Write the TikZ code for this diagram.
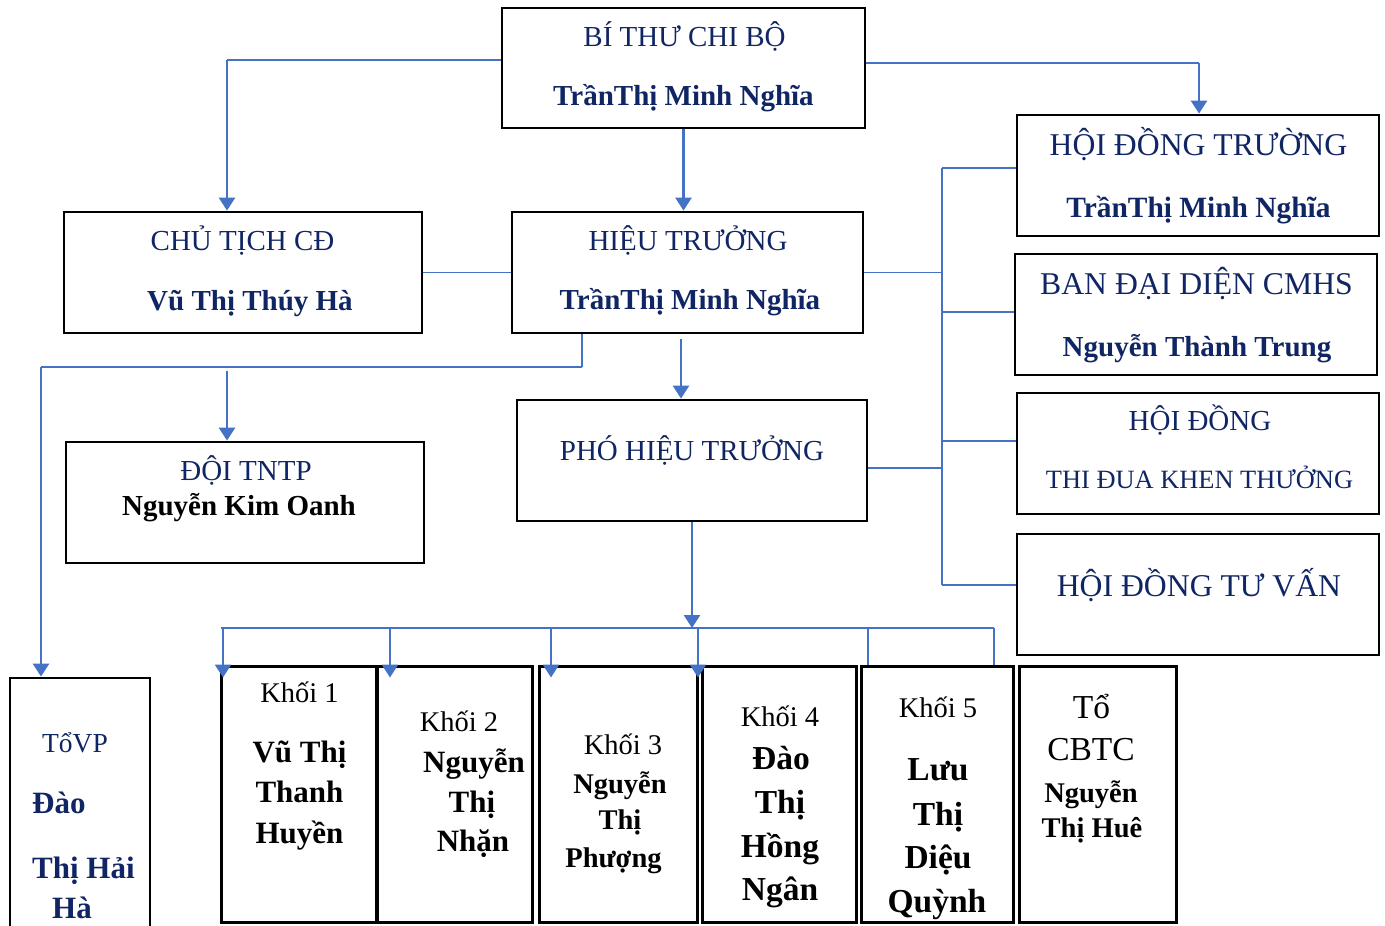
\documentclass[tikz,border=0pt]{standalone}
\usepackage{fontspec}
\setmainfont{Liberation Serif}
\usetikzlibrary{arrows.meta}
\definecolor{schoolnavy}{RGB}{16,37,99}
\definecolor{wireblue}{RGB}{68,114,196}
\newcommand{\sz}[1]{\fontsize{#1}{#1}\selectfont}
\newcommand{\connect}[2]{
  \draw [wire] (#1) -- (#2)
}
\newcommand{\feed}[2]{
  \draw [stem,-{Triangle[width=16pt,length=13pt]}] (#1) -- (#2)
}

\begin{document}
\begin{tikzpicture}[x=1pt,y=-1pt,
  box/.style={draw=black,line width=2.8pt,inner sep=0pt},
  cell/.style={draw=black,line width=3pt,inner sep=0pt,minimum height=256pt},
  wire/.style={draw=wireblue,line width=1.8pt},
  stem/.style={draw=wireblue,line width=2.6pt},
  role/.style={anchor=base,inner sep=0pt,text=schoolnavy,font=\sz{#1}},
  role/.default=29,
  person/.style={anchor=base,inner sep=0pt,text=schoolnavy,font=\sz{#1}\bfseries},
  person/.default=29,
  grade/.style={anchor=base,inner sep=0pt,text=black,font=\sz{#1}},
  grade/.default=28.5,
  teacher/.style={anchor=base,inner sep=0pt,text=black,font=\sz{#1}\bfseries},
  teacher/.default=31]
\useasboundingbox (0,0) rectangle (1385,926);

% top
\node[box,minimum width=363pt,minimum height=120pt] (btcb) at (683.5,68) {};
\node[role]   (btcb-a) at (684.5,46)  {BÍ THƯ CHI BỘ};
\node[person] (btcb-b) at (683.5,105) {TrầnThị Minh Nghĩa};

% second row
\node[box,minimum width=358pt,minimum height=121pt] (chutich) at (243,272.5) {};
\node[role]   (chutich-a) at (242.5,250) {CHỦ TỊCH CĐ};
\node[person] (chutich-b) at (250,310)   {Vũ Thị Thúy Hà};

\node[box,minimum width=351pt,minimum height=121pt] (hieutruong) at (687.5,272.5) {};
\node[role]   (hieutruong-a) at (688,250) {HIỆU TRƯỞNG};
\node[person] (hieutruong-b) at (690,309) {TrầnThị Minh Nghĩa};

% third row
\node[box,minimum width=358pt,minimum height=121pt] (doi) at (245,502.5) {};
\node[role]    (doi-a) at (246,480) {ĐỘI TNTP};
\node[teacher=29] (doi-b) at (239,515) {Nguyễn Kim Oanh};

\node[box,minimum width=350pt,minimum height=121pt] (pho) at (692,460.5) {};
\node[role] (pho-a) at (692,460) {PHÓ HIỆU TRƯỞNG};

% councils on the right
\node[box,minimum width=362pt,minimum height=121pt] (hdtruong) at (1198,175.5) {};
\node[role=31.7] (hdtruong-a) at (1198.5,155) {HỘI ĐỒNG TRƯỜNG};
\node[person=29.4] (hdtruong-b) at (1198.5,217) {TrầnThị Minh Nghĩa};

\node[box,minimum width=362pt,minimum height=121pt] (ban) at (1196,314.5) {};
\node[role=31.7] (ban-a) at (1196.5,294) {BAN ĐẠI DIỆN CMHS};
\node[person] (ban-b) at (1197,356)   {Nguyễn Thành Trung};

\node[box,minimum width=362pt,minimum height=121pt] (thidua) at (1198,453.5) {};
\node[role]      (thidua-a) at (1200,430)   {HỘI ĐỒNG};
\node[role=26.4] (thidua-b) at (1199.5,488) {THI ĐUA KHEN THƯỞNG};

\node[box,minimum width=362pt,minimum height=121pt] (tuvan) at (1198,594.5) {};
\node[role=31.7] (tuvan-a) at (1199,596) {HỘI ĐỒNG TƯ VẤN};

% office group
\node[box,minimum width=140pt,minimum height=262pt] (tovp) at (80,809) {};
\node[role=27.5] (tovp-a) at (75,752) {TổVP};
\node[person=31,anchor=base west] (tovp-b) at (32,813) {Đào};
\node[person=31,anchor=base west] (tovp-c) at (32,878) {Thị Hải};
\node[person=31] (tovp-d) at (72,918) {Hà};

% grade cells
\node[cell,minimum width=155pt] (k1) at (298.5,794) {};
\node[cell,minimum width=155pt] (k2) at (455,794)   {};
\node[cell,minimum width=158pt] (k3) at (618,794)   {};
\node[cell,minimum width=154pt] (k4) at (779,794)   {};
\node[cell,minimum width=152pt] (k5) at (937,794)   {};
\node[cell,minimum width=157pt] (k6) at (1097.5,794) {};

% kids of k1
\node[grade]   (k1-a) at (299.5,702) {Khối 1};
\node[teacher] (k1-b) at (299.5,762) {Vũ Thị};
\node[teacher] (k1-c) at (299.5,802) {Thanh};
\node[teacher] (k1-d) at (299.5,843) {Huyền};

% kids of k2
\node[grade]   (k2-a) at (459,731) {Khối 2};
\node[teacher] (k2-b) at (474,772) {Nguyễn};
\node[teacher] (k2-c) at (472,812) {Thị};
\node[teacher] (k2-d) at (473,851) {Nhặn};

% kids of k3
\node[grade]      (k3-a) at (623,754)   {Khối 3};
\node[teacher=28.5] (k3-b) at (620,793)   {Nguyễn};
\node[teacher=28.5] (k3-c) at (620,829)   {Thị};
\node[teacher=28.5] (k3-d) at (613.5,867) {Phượng};

% kids of k4
\node[grade]      (k4-a) at (780,726) {Khối 4};
\node[teacher=33.5] (k4-b) at (781,769) {Đào};
\node[teacher=33.5] (k4-c) at (780,813) {Thị};
\node[teacher=33.5] (k4-d) at (780,857) {Hồng};
\node[teacher=33.5] (k4-e) at (780,900) {Ngân};

% kids of k5
\node[grade]      (k5-a) at (938,717) {Khối 5};
\node[teacher=33.5] (k5-b) at (938,780) {Lưu};
\node[teacher=33.5] (k5-c) at (938,825) {Thị};
\node[teacher=33.5] (k5-d) at (938,868) {Diệu};
\node[teacher=33.5] (k5-e) at (937,912) {Quỳnh};

% kids of k6
\node[grade=33.5]   (k6-a) at (1091.5,718) {Tổ};
\node[grade=33.5]   (k6-b) at (1091,760)   {CBTC};
\node[teacher=28.5] (k6-c) at (1091,802)   {Nguyễn};
\node[teacher=28.5] (k6-d) at (1092,837)   {Thị Huê};

% connect top
\coordinate (tl) at (227,60);
\coordinate (tr) at (1199,63);
\connect {btcb.west |- tl} {tl};
\feed {tl} {tl |- chutich.north};
\feed {btcb.south} {btcb.south |- hieutruong.north};
\connect {btcb.east |- tr} {tr};
\feed {tr} {tr |- hdtruong.north};
\connect {chutich.east} {hieutruong.west};

% connect left branch
\coordinate (ml) at (582,367);
\coordinate (fl) at (41,367);
\coordinate (dl) at (227,371);
\connect {ml |- hieutruong.south} {ml};
\connect {ml} {fl};
\feed {fl} {fl |- tovp.north};
\feed {dl} {dl |- doi.north};
\coordinate (hp) at (681,339);
\feed {hp} {hp |- pho.north};

% connect right bus
\coordinate (rb1) at (942,168);
\coordinate (rb2) at (942,312);
\coordinate (rb3) at (942,441);
\coordinate (rb4) at (942,585);
\coordinate (rp) at (942,468);
\connect {rb1} {rb4};
\connect {hieutruong.east} {hieutruong.east -| rb1};
\connect {rp -| pho.east} {rp};
\connect {rb1} {rb1 -| hdtruong.west};
\connect {rb2} {rb2 -| ban.west};
\connect {rb3} {rb3 -| thidua.west};
\connect {rb4} {rb4 -| tuvan.west};

% connect bottom bus
\coordinate (bb) at (692,628);
\coordinate (b1) at (223,628);
\coordinate (b2) at (390,628);
\coordinate (b3) at (551,628);
\coordinate (b4) at (698,628);
\coordinate (b5) at (868,628);
\coordinate (b6) at (994,628);
\feed {pho.south} {pho.south |- bb};
\connect {[xshift=-2pt]b1} {b6};
\foreach \i/\k in {1/k1,2/k2,3/k3,4/k4}
  \draw [stem,-{Triangle[width=16pt,length=13pt]},shorten >=-13pt] (b\i) -- (b\i |- \k.north);
\draw [stem] (b5) -- (b5 |- k5.north);
\draw [stem] (b6) -- (b6 |- k5.north);

\end{tikzpicture}
\end{document}
